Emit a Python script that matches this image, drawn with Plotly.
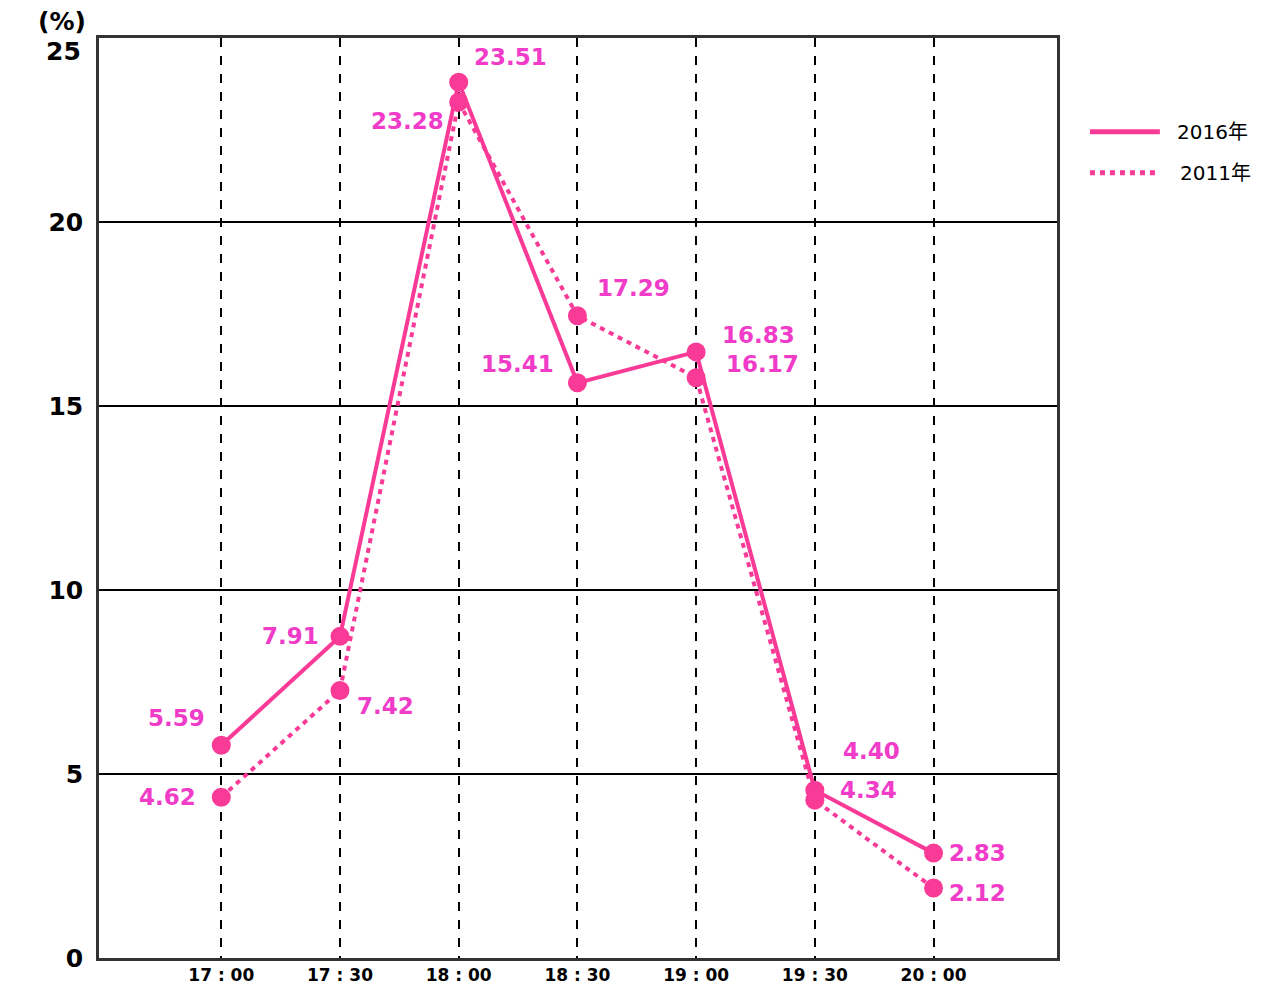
import plotly.graph_objects as go

categories = ["17 : 00", "17 : 30", "18 : 00", "18 : 30", "19 : 00", "19 : 30", "20 : 00"]
series_2016 = [5.78, 8.74, 23.80, 15.63, 16.47, 4.56, 2.85]
series_2011 = [4.37, 7.27, 23.26, 17.45, 15.77, 4.29, 1.90]
labels_2016 = ["5.59", "7.91", "23.51", "15.41", "16.83", "4.40", "2.83"]
labels_2011 = ["4.62", "7.42", "23.28", "17.29", "16.17", "4.34", "2.12"]
series_names = ["2016年", "2011年"]
y_ticks = [0, 5, 10, 15, 20]
y_top_tick = 25

# label offsets in pixels (dx, dy with dy positive = up)
off_2016 = [(-45, 27), (-49, 0), (52, 25), (-60, 19), (62, 17), (57, 39), (44, 0)]
off_2011 = [(-54, 0), (46, -16), (-51, -19), (56, 28), (66, 14), (54, 10), (44, -5)]

LINE = "#F93A96"
LABEL = "#F03CC8"
DOT = "5px,5px"

fig = go.Figure()
x_idx = list(range(len(categories)))
fig.add_trace(go.Scatter(
    x=x_idx, y=series_2016, name=series_names[0], mode="lines+markers",
    line=dict(color=LINE, width=4), marker=dict(size=19, color=LINE),
    showlegend=False,
))
fig.add_trace(go.Scatter(
    x=x_idx, y=series_2011, name=series_names[1], mode="lines+markers",
    line=dict(color=LINE, width=4, dash=DOT), marker=dict(size=19, color=LINE),
    showlegend=False,
))

annotations = []
for vals, labs, offs in ((series_2016, labels_2016, off_2016), (series_2011, labels_2011, off_2011)):
    for i, (v, t, (dx, dy)) in enumerate(zip(vals, labs, offs)):
        annotations.append(dict(
            x=i, y=v, text=t, showarrow=False, xshift=dx, yshift=dy,
            font=dict(family="DejaVu Sans", size=23, color=LABEL, weight="bold"),
        ))
# unit label and top tick label
annotations.append(dict(
    xref="paper", yref="paper", x=-0.039, y=1.0184, text="(%)", showarrow=False,
    xanchor="center", yanchor="middle",
    font=dict(family="DejaVu Sans", size=25, color="black", weight="bold"),
))
annotations.append(dict(
    xref="paper", yref="y", x=0, y=y_top_tick, text=str(y_top_tick), showarrow=False,
    xanchor="right", yanchor="middle", xshift=-16, yshift=-13,
    font=dict(family="DejaVu Sans", size=25, color="black", weight="bold"),
))

# custom legend (long line samples)
shapes = []
for k, (name, dash) in enumerate(zip(series_names, ["solid", DOT])):
    yk = 0.898 - k * 0.0445
    shapes.append(dict(type="line", xref="paper", yref="paper",
                       x0=1.0344, x1=1.1074, y0=yk, y1=yk,
                       line=dict(color=LINE, width=5, dash=dash)))
    annotations.append(dict(
        xref="paper", yref="paper", x=1.1230 + k * 0.003, y=yk, text=name, showarrow=False,
        xanchor="left", yanchor="middle",
        font=dict(family="DejaVu Sans, Noto Sans CJK JP", size=20, color="black"),
    ))

fig.update_layout(
    width=1276, height=994,
    margin=dict(l=91, r=227, t=30, b=44),
    paper_bgcolor="white", plot_bgcolor="white",
    showlegend=False,
    annotations=annotations,
    shapes=shapes,
)
fig.update_xaxes(
    range=[-1.03, 7.04], tickmode="array", tickvals=x_idx, ticktext=categories,
    showgrid=True, gridcolor="black", gridwidth=1.5, griddash="dash",
    showline=True, linecolor="#333333", linewidth=2.5, mirror=True,
    ticks="", zeroline=False,
    tickfont=dict(family="DejaVu Sans", size=17, color="black", weight="bold"),
)
fig.update_yaxes(
    range=[0, 25], tickmode="array", tickvals=y_ticks,
    showgrid=True, gridcolor="black", gridwidth=1.5,
    showline=True, linecolor="#333333", linewidth=2.5, mirror=True,
    ticks="", zeroline=False, ticklabelstandoff=8,
    tickfont=dict(family="DejaVu Sans", size=25, color="black", weight="bold"),
)

fig.write_html("out.html")
